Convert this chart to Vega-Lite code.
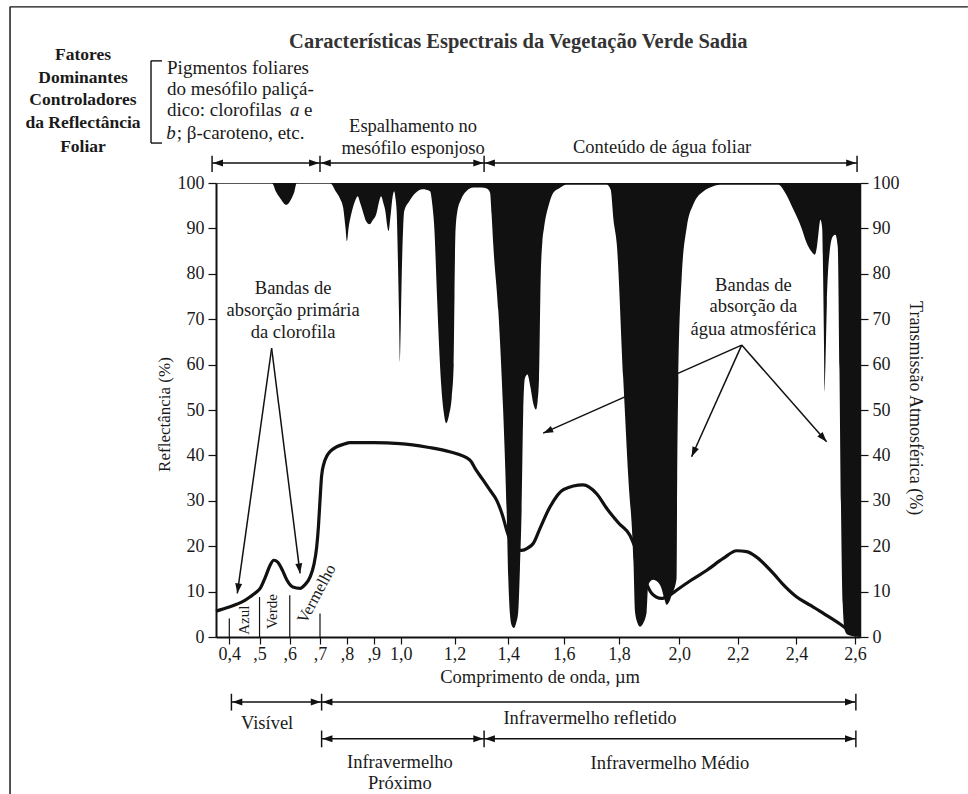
{
  "$schema": "https://vega.github.io/schema/vega-lite/v6.json",
  "width": 644,
  "height": 454,
  "autosize": {"type": "none"},
  "padding": {"left": 216, "top": 183, "right": 108, "bottom": 157},
  "background": "white",
  "config": {
    "view": {"stroke": "#555", "strokeWidth": 1},
    "axis": {"labelFont": "Liberation Serif", "labelFontSize": 18, "labelColor": "#1a1a1a", "tickColor": "#111", "domainColor": "#111", "grid": false},
    "text": {"font": "Liberation Serif", "color": "#1a1a1a"}
  },
  "datasets": {
    "refl": [
      {"um": 0.356, "refl": 5.7}, {"um": 0.4, "refl": 6.6}, {"um": 0.424, "refl": 7.2}, {"um": 0.45, "refl": 8.0},
      {"um": 0.468, "refl": 8.8}, {"um": 0.49, "refl": 9.9}, {"um": 0.502, "refl": 10.7}, {"um": 0.52, "refl": 13.3},
      {"um": 0.535, "refl": 15.8}, {"um": 0.547, "refl": 16.9}, {"um": 0.56, "refl": 16.5}, {"um": 0.575, "refl": 14.8},
      {"um": 0.59, "refl": 12.6}, {"um": 0.61, "refl": 11.0}, {"um": 0.634, "refl": 10.7}, {"um": 0.65, "refl": 11.5},
      {"um": 0.667, "refl": 13.2}, {"um": 0.68, "refl": 16.0}, {"um": 0.689, "refl": 19.8}, {"um": 0.695, "refl": 24.5},
      {"um": 0.7, "refl": 30.1}, {"um": 0.706, "refl": 35.5}, {"um": 0.715, "refl": 38.3}, {"um": 0.725, "refl": 39.8},
      {"um": 0.74, "refl": 41.0}, {"um": 0.762, "refl": 41.9}, {"um": 0.79, "refl": 42.5}, {"um": 0.811, "refl": 42.8},
      {"um": 0.9, "refl": 42.8}, {"um": 0.997, "refl": 42.6}, {"um": 1.1, "refl": 41.8}, {"um": 1.182, "refl": 40.8},
      {"um": 1.257, "refl": 39.0}, {"um": 1.28, "refl": 36.8}, {"um": 1.306, "refl": 34.6}, {"um": 1.33, "refl": 32.5},
      {"um": 1.357, "refl": 30.1}, {"um": 1.38, "refl": 26.5}, {"um": 1.394, "refl": 23.5}, {"um": 1.412, "refl": 20.6},
      {"um": 1.43, "refl": 19.2}, {"um": 1.448, "refl": 19.1}, {"um": 1.47, "refl": 19.6}, {"um": 1.49, "refl": 20.6},
      {"um": 1.515, "refl": 24.0}, {"um": 1.551, "refl": 28.7}, {"um": 1.6, "refl": 32.5}, {"um": 1.67, "refl": 33.5},
      {"um": 1.72, "refl": 31.5}, {"um": 1.756, "refl": 28.3}, {"um": 1.8, "refl": 25.0}, {"um": 1.836, "refl": 22.4},
      {"um": 1.86, "refl": 18.5}, {"um": 1.89, "refl": 12.0}, {"um": 1.91, "refl": 9.5}, {"um": 1.94, "refl": 8.5},
      {"um": 1.97, "refl": 9.3}, {"um": 1.991, "refl": 10.3}, {"um": 2.04, "refl": 12.5}, {"um": 2.094, "refl": 14.7},
      {"um": 2.15, "refl": 17.3}, {"um": 2.196, "refl": 19.0}, {"um": 2.23, "refl": 18.8}, {"um": 2.264, "refl": 17.6},
      {"um": 2.321, "refl": 14.0}, {"um": 2.36, "refl": 11.2}, {"um": 2.401, "refl": 8.8}, {"um": 2.45, "refl": 6.9},
      {"um": 2.492, "refl": 5.2}, {"um": 2.55, "refl": 2.8}, {"um": 2.594, "refl": 0.75}, {"um": 2.605, "refl": 0.3}
    ],
    "trans": [
      {"um": 0.356, "T": 100}, {"um": 0.541, "T": 100}, {"um": 0.555, "T": 98}, {"um": 0.57, "T": 96.5},
      {"um": 0.588, "T": 95.2}, {"um": 0.605, "T": 96.5}, {"um": 0.615, "T": 98}, {"um": 0.623, "T": 100},
      {"um": 0.737, "T": 100}, {"um": 0.76, "T": 98}, {"um": 0.775, "T": 96.5}, {"um": 0.786, "T": 94.6},
      {"um": 0.795, "T": 90}, {"um": 0.8, "T": 87.2}, {"um": 0.806, "T": 90}, {"um": 0.816, "T": 93.1},
      {"um": 0.83, "T": 96}, {"um": 0.84, "T": 97.1}, {"um": 0.85, "T": 95.5}, {"um": 0.859, "T": 93.8},
      {"um": 0.872, "T": 91.5}, {"um": 0.884, "T": 90.9}, {"um": 0.896, "T": 91.8}, {"um": 0.909, "T": 93.1},
      {"um": 0.92, "T": 96}, {"um": 0.927, "T": 97.1}, {"um": 0.936, "T": 95.5}, {"um": 0.943, "T": 93.8},
      {"um": 0.95, "T": 90.5}, {"um": 0.955, "T": 89.4}, {"um": 0.96, "T": 91.5}, {"um": 0.964, "T": 93.8},
      {"um": 0.97, "T": 97}, {"um": 0.976, "T": 98.2}, {"um": 0.981, "T": 96.5}, {"um": 0.985, "T": 93.8},
      {"um": 0.99, "T": 82}, {"um": 0.994, "T": 70}, {"um": 0.997, "T": 60.4}, {"um": 1.0, "T": 68},
      {"um": 1.004, "T": 80}, {"um": 1.009, "T": 90}, {"um": 1.013, "T": 93.8}, {"um": 1.032, "T": 96},
      {"um": 1.055, "T": 97.8}, {"um": 1.081, "T": 98.6}, {"um": 1.109, "T": 98.2}, {"um": 1.118, "T": 95},
      {"um": 1.125, "T": 90}, {"um": 1.135, "T": 75}, {"um": 1.142, "T": 65}, {"um": 1.15, "T": 56},
      {"um": 1.16, "T": 49.5}, {"um": 1.169, "T": 47.1}, {"um": 1.18, "T": 49}, {"um": 1.19, "T": 53},
      {"um": 1.197, "T": 60}, {"um": 1.2, "T": 75}, {"um": 1.203, "T": 88}, {"um": 1.21, "T": 93.5},
      {"um": 1.225, "T": 96.5}, {"um": 1.244, "T": 98.2}, {"um": 1.27, "T": 99}, {"um": 1.3, "T": 99},
      {"um": 1.32, "T": 98.8}, {"um": 1.332, "T": 97.9}, {"um": 1.338, "T": 93}, {"um": 1.344, "T": 86.5},
      {"um": 1.363, "T": 71.8}, {"um": 1.381, "T": 49.7}, {"um": 1.394, "T": 27.7}, {"um": 1.4, "T": 12.9},
      {"um": 1.406, "T": 5}, {"um": 1.412, "T": 2.6}, {"um": 1.42, "T": 2.0}, {"um": 1.428, "T": 3},
      {"um": 1.436, "T": 5.6}, {"um": 1.442, "T": 15}, {"um": 1.448, "T": 27.7}, {"um": 1.454, "T": 49.7},
      {"um": 1.46, "T": 57}, {"um": 1.469, "T": 57.8}, {"um": 1.48, "T": 55}, {"um": 1.49, "T": 51.5},
      {"um": 1.5, "T": 50.1}, {"um": 1.506, "T": 52}, {"um": 1.511, "T": 57}, {"um": 1.517, "T": 79.1},
      {"um": 1.523, "T": 87}, {"um": 1.529, "T": 90.1}, {"um": 1.547, "T": 95.3}, {"um": 1.562, "T": 97.8},
      {"um": 1.583, "T": 98.8}, {"um": 1.61, "T": 99.6}, {"um": 1.756, "T": 99.6}, {"um": 1.77, "T": 98.5},
      {"um": 1.78, "T": 91.9}, {"um": 1.792, "T": 86.5}, {"um": 1.814, "T": 57}, {"um": 1.831, "T": 35},
      {"um": 1.848, "T": 16.6}, {"um": 1.853, "T": 5.6}, {"um": 1.862, "T": 3}, {"um": 1.87, "T": 2.3},
      {"um": 1.88, "T": 3}, {"um": 1.892, "T": 5.6}, {"um": 1.897, "T": 11.5}, {"um": 1.913, "T": 12.6},
      {"um": 1.93, "T": 12}, {"um": 1.941, "T": 10.7}, {"um": 1.95, "T": 8.5}, {"um": 1.958, "T": 7.1},
      {"um": 1.967, "T": 7.8}, {"um": 1.975, "T": 9.3}, {"um": 1.991, "T": 12.9}, {"um": 1.993, "T": 35},
      {"um": 1.997, "T": 57}, {"um": 2.008, "T": 79.1}, {"um": 2.025, "T": 90.1}, {"um": 2.048, "T": 95.3},
      {"um": 2.083, "T": 98.2}, {"um": 2.105, "T": 99}, {"um": 2.14, "T": 99.6}, {"um": 2.339, "T": 99.6},
      {"um": 2.36, "T": 98}, {"um": 2.39, "T": 94.1}, {"um": 2.415, "T": 90.5}, {"um": 2.435, "T": 86.8},
      {"um": 2.45, "T": 85}, {"um": 2.463, "T": 84.2}, {"um": 2.47, "T": 86}, {"um": 2.474, "T": 88.2},
      {"um": 2.482, "T": 91.9}, {"um": 2.488, "T": 90}, {"um": 2.491, "T": 80}, {"um": 2.494, "T": 65},
      {"um": 2.496, "T": 54}, {"um": 2.499, "T": 60}, {"um": 2.504, "T": 73.6}, {"um": 2.513, "T": 84.6},
      {"um": 2.524, "T": 88.2}, {"um": 2.533, "T": 88.6}, {"um": 2.541, "T": 86}, {"um": 2.547, "T": 58.8},
      {"um": 2.552, "T": 29.5}, {"um": 2.558, "T": 7.4}, {"um": 2.565, "T": 1.5}, {"um": 2.575, "T": 0.5},
      {"um": 2.6171, "T": 0}
    ],
    "bands": [
      {"um": 0.4, "h": 4.1}, {"um": 0.5, "h": 8.8}, {"um": 0.6, "h": 9.2}, {"um": 0.7, "h": 5.2}
    ],
    "segs": [
      {"x1": 0.343, "y1": 104.4, "x2": 0.7, "y2": 104.4, "kind": "arrow"},
      {"x1": 0.7, "y1": 104.4, "x2": 1.31, "y2": 104.4, "kind": "arrow"},
      {"x1": 1.31, "y1": 104.4, "x2": 2.607, "y2": 104.4, "kind": "arrow"},
      {"x1": 0.343, "y1": 102.4, "x2": 0.343, "y2": 106, "kind": "tick"},
      {"x1": 0.7, "y1": 102.4, "x2": 0.7, "y2": 106, "kind": "tick"},
      {"x1": 1.31, "y1": 102.4, "x2": 1.31, "y2": 106, "kind": "tick"},
      {"x1": 2.607, "y1": 102.4, "x2": 2.607, "y2": 106, "kind": "tick"},
      {"x1": 0.407, "y1": -14.3, "x2": 0.706, "y2": -14.3, "kind": "arrow"},
      {"x1": 0.706, "y1": -14.3, "x2": 2.603, "y2": -14.3, "kind": "arrow"},
      {"x1": 0.407, "y1": -12.5, "x2": 0.407, "y2": -16.2, "kind": "tick"},
      {"x1": 0.706, "y1": -12.5, "x2": 0.706, "y2": -16.2, "kind": "tick"},
      {"x1": 2.603, "y1": -12.5, "x2": 2.603, "y2": -16.2, "kind": "tick"},
      {"x1": 0.706, "y1": -22.4, "x2": 1.31, "y2": -22.4, "kind": "arrow"},
      {"x1": 1.31, "y1": -22.4, "x2": 2.603, "y2": -22.4, "kind": "arrow"},
      {"x1": 0.706, "y1": -20.6, "x2": 0.706, "y2": -24.3, "kind": "tick"},
      {"x1": 1.31, "y1": -20.6, "x2": 1.31, "y2": -24.3, "kind": "tick"},
      {"x1": 2.603, "y1": -20.6, "x2": 2.603, "y2": -24.3, "kind": "tick"},
      {"x1": 0.54, "y1": 63.6, "x2": 0.4265, "y2": 9.6, "kind": "arrow"},
      {"x1": 0.54, "y1": 63.6, "x2": 0.634, "y2": 14.0, "kind": "arrow"},
      {"x1": 2.213, "y1": 64.3, "x2": 1.526, "y2": 44.9, "kind": "arrow"},
      {"x1": 2.213, "y1": 64.3, "x2": 2.042, "y2": 39.7, "kind": "arrow"},
      {"x1": 2.213, "y1": 64.3, "x2": 2.503, "y2": 43.0, "kind": "arrow"},
      {"x1": 0.141, "y1": 126.9, "x2": 0.141, "y2": 108.8, "kind": "bracket"},
      {"x1": 0.141, "y1": 126.9, "x2": 0.1774, "y2": 126.9, "kind": "bracket"},
      {"x1": 0.141, "y1": 108.8, "x2": 0.1774, "y2": 108.8, "kind": "bracket"},
      {"x1": -0.3254, "y1": 138.8, "x2": 2.986, "y2": 138.8, "kind": "frame"},
      {"x1": -0.3254, "y1": 138.8, "x2": -0.3254, "y2": -34.6, "kind": "frame"}
    ],
    "heads": [
      {"um": 0.346, "y": 104.4, "head": "L"}, {"um": 0.697, "y": 104.4, "head": "R"},
      {"um": 0.703, "y": 104.4, "head": "L"}, {"um": 1.307, "y": 104.4, "head": "R"},
      {"um": 1.313, "y": 104.4, "head": "L"}, {"um": 2.604, "y": 104.4, "head": "R"},
      {"um": 0.41, "y": -14.3, "head": "L"}, {"um": 0.703, "y": -14.3, "head": "R"},
      {"um": 0.709, "y": -14.3, "head": "L"}, {"um": 2.6, "y": -14.3, "head": "R"},
      {"um": 0.709, "y": -22.4, "head": "L"}, {"um": 1.307, "y": -22.4, "head": "R"},
      {"um": 1.313, "y": -22.4, "head": "L"}, {"um": 2.6, "y": -22.4, "head": "R"},
      {"um": 0.4265, "y": 9.6, "head": "cl"}, {"um": 0.634, "y": 14.0, "head": "cr"},
      {"um": 1.526, "y": 44.9, "head": "wa"}, {"um": 2.042, "y": 39.7, "head": "wb"},
      {"um": 2.503, "y": 43.0, "head": "wc"}
    ],
    "texts": [
      {"um": 1.436, "y": 131.1, "text": "Características Espectrais da Vegetação Verde Sadia", "kind": "title"},
      {"um": -0.084, "y": 128.2, "text": "Fatores", "kind": "factor"},
      {"um": -0.084, "y": 123.1, "text": "Dominantes", "kind": "factor"},
      {"um": -0.084, "y": 118.3, "text": "Controladores", "kind": "factor"},
      {"um": -0.084, "y": 113.2, "text": "da Reflectância", "kind": "factor"},
      {"um": -0.084, "y": 107.9, "text": "Foliar", "kind": "factor"},
      {"um": 0.194, "y": 125.3, "text": "Pigmentos foliares", "kind": "pig"},
      {"um": 0.194, "y": 120.7, "text": "do mesófilo paliçá-", "kind": "pig"},
      {"um": 0.194, "y": 116.1, "text": "dico: clorofilas", "kind": "pig"},
      {"um": 0.6008, "y": 116.1, "text": "a", "kind": "pigi"},
      {"um": 0.647, "y": 116.1, "text": "e", "kind": "pig"},
      {"um": 0.191, "y": 111.0, "text": "b", "kind": "pigi"},
      {"um": 0.226, "y": 111.0, "text": "; β-caroteno, etc.", "kind": "pig"},
      {"um": 1.046, "y": 112.6, "text": "Espalhamento no", "kind": "ann"},
      {"um": 1.046, "y": 107.7, "text": "mesófilo esponjoso", "kind": "ann"},
      {"um": 1.943, "y": 107.9, "text": "Conteúdo de água foliar", "kind": "ann"},
      {"um": 0.611, "y": 76.9, "text": "Bandas de", "kind": "ann"},
      {"um": 0.611, "y": 72.0, "text": "absorção primária", "kind": "ann"},
      {"um": 0.611, "y": 67.2, "text": "da clorofila", "kind": "ann"},
      {"um": 2.253, "y": 77.5, "text": "Bandas de", "kind": "ann"},
      {"um": 2.253, "y": 72.8, "text": "absorção da", "kind": "ann"},
      {"um": 2.253, "y": 67.8, "text": "água atmosférica", "kind": "ann"},
      {"um": 1.515, "y": -8.9, "text": "Comprimento de onda, µm", "kind": "ann"},
      {"um": 0.525, "y": -18.9, "text": "Visível", "kind": "ann"},
      {"um": 1.695, "y": -17.9, "text": "Infravermelho refletido", "kind": "ann"},
      {"um": 0.997, "y": -27.5, "text": "Infravermelho", "kind": "ann"},
      {"um": 0.997, "y": -32.2, "text": "Próximo", "kind": "ann"},
      {"um": 1.969, "y": -27.8, "text": "Infravermelho Médio", "kind": "ann"},
      {"um": 0.187, "y": 49.0, "text": "Reflectância (%)", "kind": "ytitle"},
      {"um": 2.805, "y": 50.4, "text": "Transmissão Atmosférica (%)", "kind": "rtitle"},
      {"um": 0.45, "y": 3.7, "text": "Azul", "kind": "band"},
      {"um": 0.541, "y": 5.6, "text": "Verde", "kind": "band"},
      {"um": 0.689, "y": 9.5, "text": "Vermelho", "kind": "verm"}
    ]
  },
  "resolve": {"scale": {"y": "independent"}},
  "layer": [
    {
      "layer": [
        {
          "data": {"name": "trans"},
          "mark": {"type": "area", "color": "#111", "interpolate": "monotone"},
          "encoding": {
            "x": {"field": "um", "type": "quantitative", "title": null,
              "scale": {"domain": [0.356, 0.4, 0.7, 1.4, 1.8, 2.0, 2.6, 2.6171], "range": [0, 13.3, 104, 292.3, 403, 463.3, 639, 644], "nice": false, "zero": false},
              "axis": {"values": [0.4, 0.5, 0.6, 0.7, 0.8, 0.9, 1.0, 1.2, 1.4, 1.6, 1.8, 2.0, 2.2, 2.4, 2.6],
                "labelExpr": "datum.value < 0.45 ? '0,4' : (datum.value < 0.95 ? ',' + format(datum.value * 10, '.0f') : replace(format(datum.value, '.1f'), '.', ','))",
                "tickSize": 7, "tickWidth": 1.2, "domainWidth": 2, "labelPadding": 1, "labelOverlap": false, "labelFlush": false}},
            "y": {"field": "T", "type": "quantitative", "title": null,
              "scale": {"domain": [0, 100], "nice": false, "zero": false},
              "axis": {"values": [0, 10, 20, 30, 40, 50, 60, 70, 80, 90, 100], "tickSize": 8, "tickWidth": 1.2, "domainWidth": 2, "labelPadding": 4}},
            "y2": {"datum": 100}
          }
        },
        {
          "data": {"name": "refl"},
          "mark": {"type": "line", "color": "#111", "strokeWidth": 3.2, "interpolate": "monotone"},
          "encoding": {
            "x": {"field": "um", "type": "quantitative", "title": null},
            "y": {"field": "refl", "type": "quantitative", "title": null}
          }
        },
        {
          "data": {"name": "bands"},
          "mark": {"type": "rule", "color": "#111", "strokeWidth": 1.2},
          "encoding": {
            "x": {"field": "um", "type": "quantitative", "title": null},
            "y": {"field": "h", "type": "quantitative", "title": null},
            "y2": {"datum": 0}
          }
        },
        {
          "data": {"name": "segs"},
          "mark": {"type": "rule", "color": "#111"},
          "encoding": {
            "x": {"field": "x1", "type": "quantitative", "title": null},
            "y": {"field": "y1", "type": "quantitative", "title": null},
            "x2": {"field": "x2"},
            "y2": {"field": "y2"},
            "strokeWidth": {"field": "kind", "type": "nominal", "scale": {"domain": ["arrow", "tick", "frame", "bracket"], "range": [1.5, 1.4, 2, 1.6]}, "legend": null}
          }
        },
        {
          "data": {"name": "heads"},
          "mark": {"type": "point", "filled": true, "color": "#111", "opacity": 1, "size": 100, "strokeWidth": 0},
          "encoding": {
            "x": {"field": "um", "type": "quantitative", "title": null},
            "y": {"field": "y", "type": "quantitative", "title": null},
            "shape": {"field": "head", "type": "nominal", "legend": null,
              "scale": {"domain": ["L", "R", "cl", "cr", "wa", "wb", "wc"],
                "range": ["M0,0L2,0.7L2,-0.7Z", "M0,0L-2,-0.7L-2,0.7Z", "M0,0L0.97,-1.88L-0.41,-2.08Z", "M0,0L0.44,-2.07L-0.95,-1.9Z", "M0,0L2.11,-0.17L1.54,-1.45Z", "M0,0L1.46,-1.54L0.18,-2.11Z", "M0,0L-0.79,-1.96L-1.85,-1.04Z"]}}
          }
        },
        {
          "data": {"name": "texts"},
          "transform": [{"filter": "datum.kind == 'title'"}],
          "mark": {"type": "text", "font": "Liberation Serif", "fontSize": 20.5, "fontWeight": "bold", "align": "center", "baseline": "middle", "color": "#333"},
          "encoding": {
            "x": {"field": "um", "type": "quantitative", "title": null},
            "y": {"field": "y", "type": "quantitative", "title": null},
            "text": {"field": "text"}
          }
        },
        {
          "data": {"name": "texts"},
          "transform": [{"filter": "datum.kind == 'factor'"}],
          "mark": {"type": "text", "font": "Liberation Serif", "fontSize": 17.5, "fontWeight": "bold", "align": "center", "baseline": "middle", "color": "#1a1a1a"},
          "encoding": {
            "x": {"field": "um", "type": "quantitative", "title": null},
            "y": {"field": "y", "type": "quantitative", "title": null},
            "text": {"field": "text"}
          }
        },
        {
          "data": {"name": "texts"},
          "transform": [{"filter": "datum.kind == 'pig'"}],
          "mark": {"type": "text", "font": "Liberation Serif", "fontSize": 19, "align": "left", "baseline": "middle", "color": "#1a1a1a"},
          "encoding": {
            "x": {"field": "um", "type": "quantitative", "title": null},
            "y": {"field": "y", "type": "quantitative", "title": null},
            "text": {"field": "text"}
          }
        },
        {
          "data": {"name": "texts"},
          "transform": [{"filter": "datum.kind == 'pigi'"}],
          "mark": {"type": "text", "font": "Liberation Serif", "fontSize": 19, "fontStyle": "italic", "align": "left", "baseline": "middle", "color": "#1a1a1a"},
          "encoding": {
            "x": {"field": "um", "type": "quantitative", "title": null},
            "y": {"field": "y", "type": "quantitative", "title": null},
            "text": {"field": "text"}
          }
        },
        {
          "data": {"name": "texts"},
          "transform": [{"filter": "datum.kind == 'ann'"}],
          "mark": {"type": "text", "font": "Liberation Serif", "fontSize": 18.5, "align": "center", "baseline": "middle", "color": "#1a1a1a"},
          "encoding": {
            "x": {"field": "um", "type": "quantitative", "title": null},
            "y": {"field": "y", "type": "quantitative", "title": null},
            "text": {"field": "text"}
          }
        },
        {
          "data": {"name": "texts"},
          "transform": [{"filter": "datum.kind == 'ytitle'"}],
          "mark": {"type": "text", "font": "Liberation Serif", "fontSize": 17, "angle": 270, "align": "center", "baseline": "middle", "color": "#1a1a1a"},
          "encoding": {
            "x": {"field": "um", "type": "quantitative", "title": null},
            "y": {"field": "y", "type": "quantitative", "title": null},
            "text": {"field": "text"}
          }
        },
        {
          "data": {"name": "texts"},
          "transform": [{"filter": "datum.kind == 'rtitle'"}],
          "mark": {"type": "text", "font": "Liberation Serif", "fontSize": 18, "angle": 90, "align": "center", "baseline": "middle", "color": "#1a1a1a"},
          "encoding": {
            "x": {"field": "um", "type": "quantitative", "title": null},
            "y": {"field": "y", "type": "quantitative", "title": null},
            "text": {"field": "text"}
          }
        },
        {
          "data": {"name": "texts"},
          "transform": [{"filter": "datum.kind == 'band'"}],
          "mark": {"type": "text", "font": "Liberation Serif", "fontSize": 15, "angle": 270, "align": "center", "baseline": "middle", "color": "#1a1a1a"},
          "encoding": {
            "x": {"field": "um", "type": "quantitative", "title": null},
            "y": {"field": "y", "type": "quantitative", "title": null},
            "text": {"field": "text"}
          }
        },
        {
          "data": {"name": "texts"},
          "transform": [{"filter": "datum.kind == 'verm'"}],
          "mark": {"type": "text", "font": "Liberation Serif", "fontSize": 16.5, "angle": 298, "align": "center", "baseline": "middle", "color": "#1a1a1a"},
          "encoding": {
            "x": {"field": "um", "type": "quantitative", "title": null},
            "y": {"field": "y", "type": "quantitative", "title": null},
            "text": {"field": "text"}
          }
        }
      ]
    },
    {
      "data": {"name": "trans"},
      "mark": {"type": "point", "opacity": 0},
      "encoding": {
        "x": {"field": "um", "type": "quantitative", "title": null},
        "y": {"field": "T", "type": "quantitative", "title": null,
          "scale": {"domain": [0, 100], "nice": false, "zero": false},
          "axis": {"orient": "right", "values": [0, 10, 20, 30, 40, 50, 60, 70, 80, 90, 100], "tickSize": 8, "tickWidth": 1.2, "domainWidth": 1.5, "labelPadding": 4}}
      }
    }
  ]
}
